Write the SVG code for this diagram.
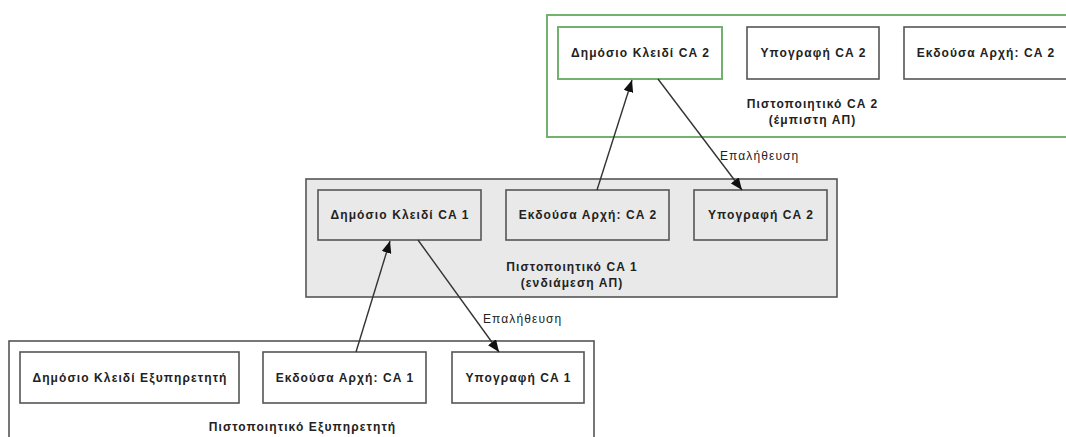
<svg xmlns="http://www.w3.org/2000/svg" width="1066" height="437" viewBox="0 0 1066 437">
<style>
  .t { font-family: "Liberation Sans", Arial, sans-serif; font-size: 12px; letter-spacing: 1.1px; font-weight: bold; fill: #222; text-anchor: middle; dominant-baseline: central; }
  .lbl { font-family: "Liberation Sans", Arial, sans-serif; font-size: 12px; letter-spacing: 1.1px; font-weight: normal; fill: #222; text-anchor: start; dominant-baseline: central; }
  .box { fill: #ffffff; stroke: #555; stroke-width: 1.6; }
  .gbox { fill: #e9e9e9; stroke: #555; stroke-width: 1.6; }
  .green { fill: #ffffff; stroke: #72b26e; stroke-width: 2; }
  .cont { fill: #ffffff; stroke: #555; stroke-width: 1.6; }
  .gcont { fill: #e9e9e9; stroke: #555; stroke-width: 1.6; }
  .conn { stroke: #333; stroke-width: 1.4; fill: none; marker-end: url(#arr); }
</style>
<defs>
  <marker id="arr" viewBox="0 0 12 10" refX="12" refY="5" markerWidth="12" markerHeight="10" markerUnits="userSpaceOnUse" orient="auto">
    <path d="M0,0 L12,5 L0,10 z" fill="#111"/>
  </marker>
</defs>
<rect width="1066" height="437" fill="#ffffff"/>

<g id="cert-ca2">
  <rect class="green" x="547" y="15" width="530" height="122"/>
  <text class="t" x="812.5" y="104">Πιστοποιητικό CA 2</text>
  <text class="t" x="812.5" y="120">(έμπιστη ΑΠ)</text>
</g>
<g id="ca2-pubkey">
  <rect class="green" x="558" y="27" width="164" height="52"/>
  <text class="t" x="640.5" y="53">Δημόσιο Κλειδί CA 2</text>
</g>
<g id="ca2-signature">
  <rect class="box" x="747" y="27" width="132" height="52"/>
  <text class="t" x="813.5" y="53">Υπογραφή CA 2</text>
</g>
<g id="ca2-issuer">
  <rect class="box" x="904" y="27" width="163" height="52"/>
  <text class="t" x="986" y="53">Εκδούσα Αρχή: CA 2</text>
</g>

<g id="cert-ca1">
  <rect class="gcont" x="306" y="179" width="531" height="118"/>
  <text class="t" x="572" y="267">Πιστοποιητικό CA 1</text>
  <text class="t" x="572" y="283">(ενδιάμεση ΑΠ)</text>
</g>
<g id="ca1-pubkey">
  <rect class="gbox" x="318" y="190" width="163" height="50"/>
  <text class="t" x="400" y="215">Δημόσιο Κλειδί CA 1</text>
</g>
<g id="ca1-issuer">
  <rect class="gbox" x="506" y="190" width="163" height="50"/>
  <text class="t" x="588" y="215">Εκδούσα Αρχή: CA 2</text>
</g>
<g id="ca1-signature">
  <rect class="gbox" x="694" y="190" width="133" height="50"/>
  <text class="t" x="761" y="215">Υπογραφή CA 2</text>
</g>

<g id="cert-server">
  <rect class="cont" x="9" y="341" width="585" height="110"/>
  <text class="t" x="302.5" y="427">Πιστοποιητικό Εξυπηρετητή</text>
</g>
<g id="server-pubkey">
  <rect class="box" x="20" y="352" width="219" height="51"/>
  <text class="t" x="130" y="377.5">Δημόσιο Κλειδί Εξυπηρετητή</text>
</g>
<g id="server-issuer">
  <rect class="box" x="263" y="352" width="163" height="51"/>
  <text class="t" x="345" y="377.5">Εκδούσα Αρχή: CA 1</text>
</g>
<g id="server-signature">
  <rect class="box" x="452" y="352" width="132" height="51"/>
  <text class="t" x="518.5" y="377.5">Υπογραφή CA 1</text>
</g>

<g id="connectors">
  <line class="conn" x1="356" y1="352" x2="390" y2="241"/>
  <line class="conn" x1="418" y1="240" x2="499" y2="352"/>
  <line class="conn" x1="597" y1="190" x2="632" y2="80"/>
  <line class="conn" x1="658" y1="79" x2="742" y2="190"/>
  <text class="lbl" x="483" y="319">Επαλήθευση</text>
  <text class="lbl" x="720" y="156">Επαλήθευση</text>
</g>
</svg>
